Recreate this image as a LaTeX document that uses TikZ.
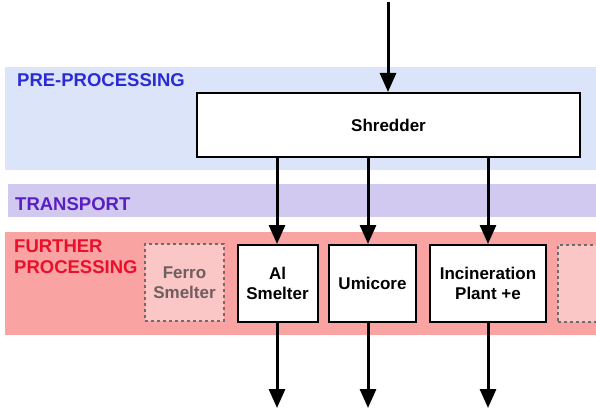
\documentclass[tikz,border=0pt]{standalone}
\usepackage{fontspec}
\setmainfont{Liberation Sans}
\usetikzlibrary{arrows.meta}
\definecolor{preband}{HTML}{DCE4FA}
\definecolor{trband}{HTML}{D2C9F0}
\definecolor{furband}{HTML}{F9A3A3}
\definecolor{dashfill}{HTML}{FBC6C6}
\definecolor{prelab}{HTML}{2B2BD6}
\definecolor{trlab}{HTML}{5A1FC2}
\definecolor{furlab}{HTML}{E8102A}
\definecolor{ghosttext}{HTML}{6E5E5E}
\tikzset{
  lab/.style={anchor=base west, inner sep=0pt, font=\fontsize{18.5}{21}\selectfont\bfseries},
  procbox/.style={draw=black, line width=2pt, fill=white, align=center, inner sep=0pt,
    font=\fontsize{17}{20}\selectfont\bfseries},
  ghostbox/.style={draw=gray!85!black, dash pattern=on 3pt off 3pt, line width=1.5pt, fill=dashfill,
    align=center, inner sep=0pt, text=ghosttext, font=\fontsize{17}{20}\selectfont\bfseries},
  arr/.style={line width=3pt, -{Triangle[width=16pt,length=19pt]}}
}
\begin{document}
\begin{tikzpicture}[x=1pt,y=-1pt]
\useasboundingbox (0,0) rectangle (596,409);
% bands
\fill[preband] (5,67) rectangle (596,170);
\fill[trband] (8,184) rectangle (596,217);
\fill[furband] (5,232) rectangle (596,335);
% labels
\node[lab, text=prelab] (prel) at (17,87) {PRE-PROCESSING};
\node[lab, text=trlab] (trl) at (15,210) {TRANSPORT};
\node[lab, text=furlab] (furl) at (14,252) {FURTHER};
\node[lab, text=furlab] (furl2) at (14,273) {PROCESSING};
% boxes
\node[procbox, minimum width=383pt, minimum height=64pt] (shredder) at (388.5,125) {Shredder};
\node[ghostbox, minimum width=79pt, minimum height=77pt] (ferro) at (184.5,282.5) {Ferro\\Smelter};
\node[procbox, minimum width=80pt, minimum height=77pt] (al) at (277.5,283.5) {Al\\Smelter};
\node[procbox, minimum width=87pt, minimum height=77pt] (umicore) at (372.5,283.5) {Umicore};
\node[procbox, minimum width=116pt, minimum height=77pt] (incin) at (488,283.5) {Incineration\\Plant +e};
\node[ghostbox, minimum width=60pt, minimum height=77pt, anchor=west] (extra) at (557,283.5) {};
% arrows
\coordinate (in) at (388,2);
\coordinate (outal) at (277,408);
\coordinate (outum) at (368,408);
\coordinate (outin) at (488,408);
\draw[arr] (in) -- (in |- shredder.north);
\draw[arr] (shredder.south -| outal) -- (outal |- al.north);
\draw[arr] (shredder.south -| outum) -- (outum |- umicore.north);
\draw[arr] (shredder.south -| outin) -- (outin |- incin.north);
\draw[arr] (outal |- al.south) -- (outal);
\draw[arr] (outum |- umicore.south) -- (outum);
\draw[arr] (outin |- incin.south) -- (outin);
\end{tikzpicture}
\end{document}
